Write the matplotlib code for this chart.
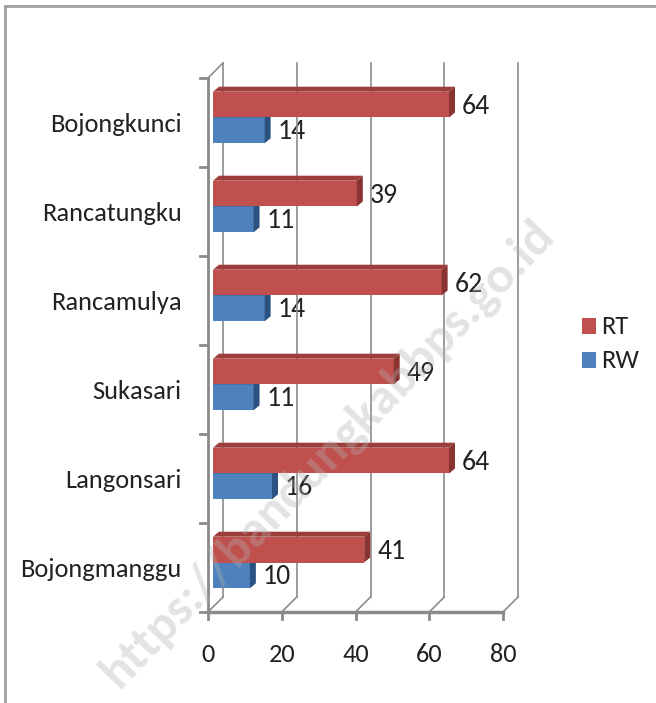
import matplotlib
matplotlib.use('Agg')
import matplotlib.pyplot as plt
from matplotlib.patches import Polygon, Rectangle
from matplotlib.lines import Line2D
from matplotlib.transforms import IdentityTransform

plt.rcParams['font.family'] = ['Carlito', 'DejaVu Sans']

# data
categories = ['Bojongkunci', 'Rancatungku', 'Rancamulya', 'Sukasari', 'Langonsari', 'Bojongmanggu']
rt_values = [64, 39, 62, 49, 64, 41]
rw_values = [14, 11, 14, 11, 16, 10]
x_ticks = [0, 20, 40, 60, 80]

W, H = 656, 703
fig = plt.figure(figsize=(W / 100, H / 100), dpi=100)

# front plane of the pseudo-3D chart
ax = fig.add_axes([208 / W, (H - 612) / H, 295 / W, 534 / H])
ax.set_xlim(0, 80)
ax.set_ylim(len(categories) - 0.5, -0.5)
for s in ax.spines.values():
    s.set_visible(False)
ax.set_xticks(x_ticks)
ax.set_xticklabels([str(t) for t in x_ticks], fontsize=19, color='#222222')
ax.set_yticks(range(len(categories)))
ax.set_yticklabels(categories, fontsize=19, color='#222222')
ax.tick_params(axis='both', length=0)
ax.tick_params(axis='x', pad=22)
ax.tick_params(axis='y', pad=19)
ax.patch.set_alpha(0)

fig.canvas.draw()
T = ax.transData
DX, DY = 15, 15       # depth of the back wall (pixels)
grid_c = '#8c8c8c'
axis_c = '#8a8a8a'
ytop, ybot = -0.5, len(categories) - 0.5

def pt(x, y):
    return T.transform((x, y))

def dline(p, q, **kw):
    fig.add_artist(Line2D([p[0], q[0]], [p[1], q[1]], transform=IdentityTransform(), **kw))

# back wall gridlines + floor diagonals
for t in x_ticks:
    b0 = pt(t, ybot)
    b1 = pt(t, ytop)
    dline((b0[0] + DX, b0[1] + DY), (b1[0] + DX, b1[1] + DY), color=grid_c, lw=1.2, zorder=1)
    dline(b0, (b0[0] + DX, b0[1] + DY), color=grid_c, lw=1.2, zorder=1)
    dline(b0, (b0[0], b0[1] - 7), color=axis_c, lw=2, zorder=2)

# left wall
l0 = pt(0, ybot)
l1 = pt(0, ytop)
dline(l1, (l1[0] + DX, l1[1] + DY), color=grid_c, lw=1.2, zorder=1)
dline(l0, l1, color=axis_c, lw=2, zorder=2)
for i in range(len(categories) + 1):
    p = pt(0, i - 0.5)
    dline(p, (p[0] - 8, p[1]), color=axis_c, lw=2, zorder=2)
# floor front edge
dline(pt(0, ybot), pt(80, ybot), color=axis_c, lw=2.5, zorder=2)

# bars with pseudo-3D faces
BX, BY = 5, 5      # bar offset from front plane
SX, SY = 6, 5      # bar depth
bar_h = 0.29

def bar3d(x, yc, face, top, side):
    y0, y1 = yc - bar_h / 2, yc + bar_h / 2
    a = pt(0, y0) + (BX, BY)   # upper-left
    b = pt(x, y0) + (BX, BY)   # upper-right
    c = pt(x, y1) + (BX, BY)   # lower-right
    d = pt(0, y1) + (BX, BY)   # lower-left
    fig.add_artist(Polygon([d, a, b, c], closed=True, transform=IdentityTransform(),
                           facecolor=face, edgecolor='none', zorder=3))
    fig.add_artist(Polygon([a, a + (SX, SY), b + (SX, SY), b], closed=True,
                           transform=IdentityTransform(), facecolor=top,
                           edgecolor='none', zorder=3))
    fig.add_artist(Polygon([b, b + (SX, SY), c + (SX, SY), c], closed=True,
                           transform=IdentityTransform(), facecolor=side,
                           edgecolor='none', zorder=3))

for i, (rt, rw) in enumerate(zip(rt_values, rw_values)):
    bar3d(rw, i + bar_h / 2, '#4F81BD', '#3A6595', '#2C5282')
    bar3d(rt, i - bar_h / 2, '#C0504D', '#9E3E3B', '#8A3431')
    for v, yc in ((rt, i - bar_h / 2), (rw, i + bar_h / 2)):
        ax.annotate(str(v), (v, yc), xytext=(13, 2.5), textcoords='offset points',
                    ha='left', va='center', fontsize=20, color='#222222',
                    annotation_clip=False, zorder=5)

# legend
for lab, col, yc in (('RT', '#C0504D', 326), ('RW', '#4F81BD', 360)):
    fig.add_artist(Rectangle((582 / W, 1 - (yc + 8) / H), 14 / W, 16 / H,
                             transform=fig.transFigure, facecolor=col, edgecolor='none'))
    fig.text(601 / W, 1 - yc / H, lab, fontsize=19, color='#222222', va='center', ha='left')

# outer border (left and top edges visible)
fig.add_artist(Line2D([5 / W, 5 / W], [0, 1 - 6 / H], transform=fig.transFigure,
                      color='#a0a0a0', lw=2))
fig.add_artist(Line2D([5 / W, 1], [1 - 6 / H, 1 - 6 / H], transform=fig.transFigure,
                      color='#a0a0a0', lw=2))

# watermark
fig.text(328 / W, 1 - 453 / H, 'https://bandungkabbps.go.id', rotation=46,
         rotation_mode='anchor', ha='center', va='center', fontsize=37,
         fontweight='bold', color='#b0b0b0', alpha=0.35, zorder=10)

fig.savefig('out.png', dpi=100)
